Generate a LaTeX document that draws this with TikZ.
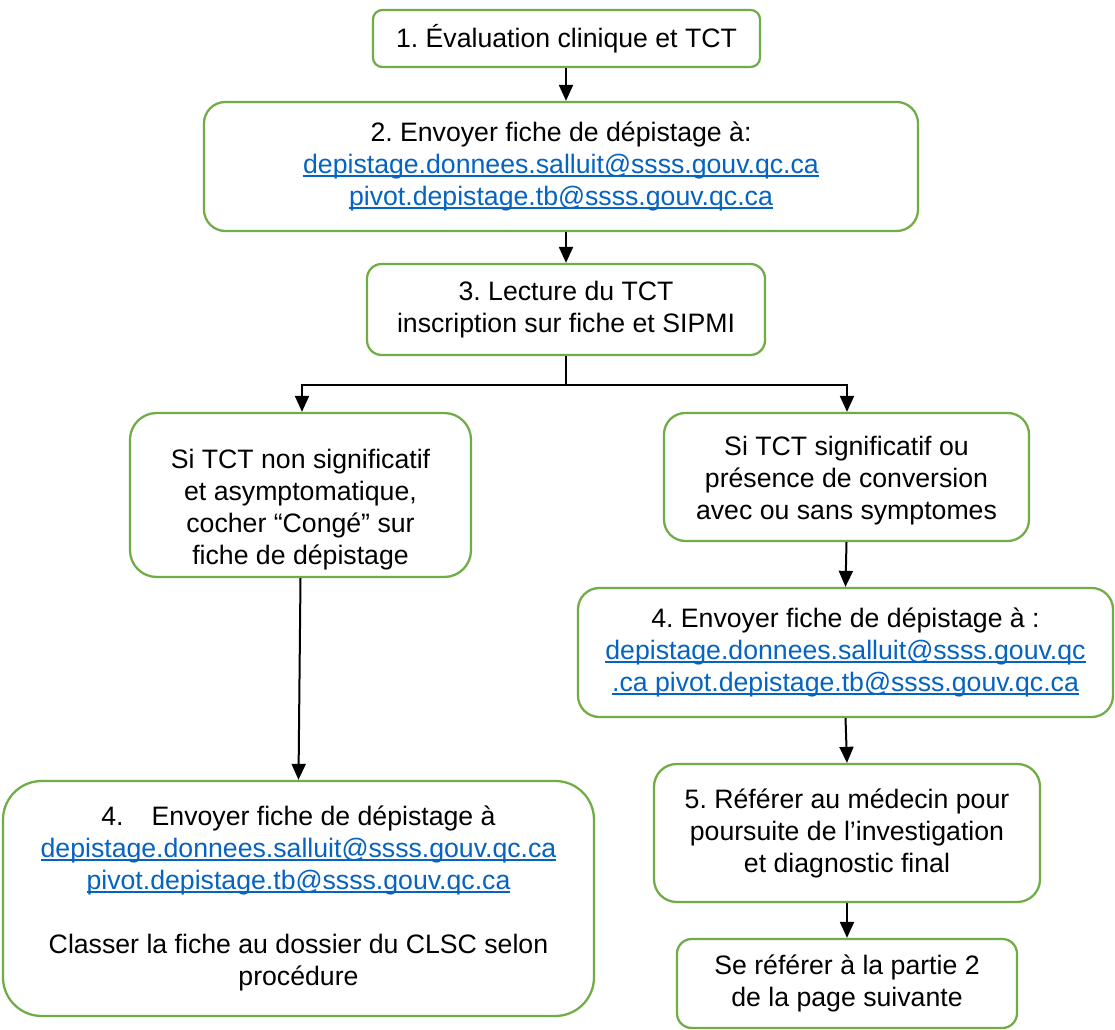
\documentclass[tikz,border=0pt]{standalone}
\usepackage{fontspec}
\setmainfont{Liberation Sans}
\usetikzlibrary{arrows.meta}
\definecolor{boxgreen}{HTML}{70AD47}
\definecolor{linkblue}{HTML}{0563C1}
\newcommand\lnk[1]{{\color{linkblue}\setbox0\hbox{#1}\rlap{\rule[-2.3pt]{\wd0}{1pt}}\box0}}
\frenchspacing
\begin{document}
\begin{tikzpicture}[x=0.75pt,y=-0.75pt,
  txt/.style={align=center, inner sep=0pt, font=\fontsize{20}{24}\selectfont\frenchspacing, text=black},
  box/.style={txt, draw=boxgreen, line width=1.7pt},
  arr/.style={line width=1.5pt, -{Triangle[length=12pt,width=10.5pt]}}]
\useasboundingbox (0,0) rectangle (1115,1030);
\fill[white] (0,0) rectangle (1115,1030);

\node[box, rounded corners=7pt, minimum width=290.25pt, minimum height=42.75pt] (b1) at (566.5,38.5)
  {1. Évaluation clinique et TCT};
\node[box, rounded corners=16pt, minimum width=535.5pt, minimum height=96.75pt] (b2) at (561,166.5)
  {2. Envoyer fiche de dépistage à:\\ \lnk{depistage.donnees.salluit@ssss.gouv.qc.ca}\\ \lnk{pivot.depistage.tb@ssss.gouv.qc.ca}};
\node[box, rounded corners=11pt, minimum width=298.5pt, minimum height=68.25pt] (b3) at (566,309.5)
  {3. Lecture du TCT\\ inscription sur fiche et SIPMI};
\node[box, rounded corners=20pt, minimum width=255.75pt, minimum height=123pt] (l1) at (300.5,495) {};
\node[txt] (l1t) at ([yshift=-11pt]l1.center)
  {Si TCT non significatif\\ et asymptomatique,\\ cocher “Congé” sur\\ fiche de dépistage};
\node[box, rounded corners=16pt, minimum width=273.75pt, minimum height=96pt] (r1) at (846.5,477) {};
\node[txt] (r1t) at ([yshift=-3pt]r1.center)
  {Si TCT significatif ou\\ présence de conversion\\ avec ou sans symptomes};
\node[box, rounded corners=16pt, minimum width=401.25pt, minimum height=96.75pt] (r2) at (845.5,652.5)
  {4. Envoyer fiche de dépistage à :\\ \lnk{depistage.donnees.salluit@ssss.gouv.qc}\\ \lnk{.ca pivot.depistage.tb@ssss.gouv.qc.ca}};
\node[box, rounded corners=17pt, minimum width=289.5pt, minimum height=103.5pt] (r3) at (847,833)
  {5. Référer au médecin pour\\ poursuite de l’investigation\\ et diagnostic final};
\node[box, rounded corners=11pt, minimum width=255pt, minimum height=66.75pt] (r4) at (847,983.5)
  {Se référer à la partie 2\\ de la page suivante};
\node[box, rounded corners=29pt, minimum width=443.25pt, minimum height=176.25pt] (l2) at (298.5,898.5)
  {4.\hspace{1.05em}Envoyer fiche de dépistage à\\ \lnk{depistage.donnees.salluit@ssss.gouv.qc.ca}\\ \lnk{pivot.depistage.tb@ssss.gouv.qc.ca}\\[24pt] Classer la fiche au dossier du CLSC selon\\ procédure};

\coordinate (bl) at (302,385);
\coordinate (bR) at (847,385);

\draw[arr] (b1.south -| b3.center) -- (b2.north -| b3.center);
\draw[arr] (b2.south -| b3.center) -- (b3.north);
\draw[arr] (b3.south) -- (b3.south |- bl) -- (bl) -- (bl |- l1.north);
\draw[arr] (b3.south) -- (b3.south |- bR) -- (bR) -- (bR |- r1.north);
\draw[arr] (l1.south) -- (l2.north);
\draw[arr] (r1.south) -- (r2.north);
\draw[arr] (r2.south) -- (r3.north);
\draw[arr] (r3.south) -- (r4.north);
\end{tikzpicture}
\end{document}
